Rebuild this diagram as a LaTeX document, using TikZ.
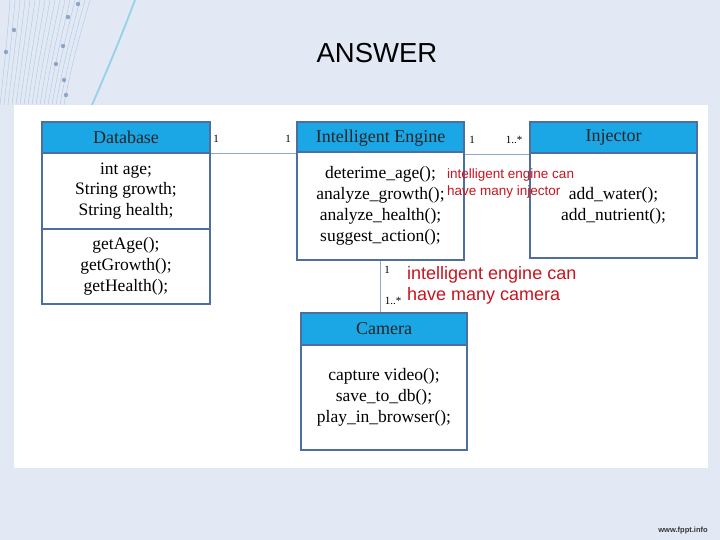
\documentclass[tikz,border=0pt]{standalone}
\usepackage{fontspec}
\setmainfont{Liberation Serif}
\newfontfamily\arialf{Liberation Sans}
\begin{document}
\begin{tikzpicture}[x=1pt,y=-1pt,
  hdr/.style={draw=boxc,line width=1.2pt,fill=hdrc,minimum width=#1,minimum height=31pt,inner sep=0pt,font=\fontsize{18}{21}\selectfont,text=black!85},
  bdy/.style={draw=boxc,line width=1.2pt,fill=white,minimum width=#1,inner sep=0pt,align=center,font=\fontsize{17.5}{20.8}\selectfont},
  conn/.style={draw=connc,line width=0.8pt},
  mult/.style={font=\fontsize{11}{12}\selectfont,inner sep=0pt},
  note/.style={text=notec,font=\arialf\fontsize{#1}{1.2\dimexpr#1pt\relax}\selectfont,align=left,inner sep=0pt,anchor=north west}
]
\definecolor{bgc}{HTML}{E2E9F4}
\definecolor{hdrc}{HTML}{1BA6E6}
\definecolor{boxc}{HTML}{4D6E9E}
\definecolor{connc}{HTML}{8FA9CC}
\definecolor{notec}{HTML}{C8141E}
\definecolor{swirl}{HTML}{7FB3D8}
\useasboundingbox (0,0) rectangle (720,540);
\fill[bgc] (0,0) rectangle (720,540);
% decorative swirl top-left
\foreach \i in {0,...,16}{
  \draw[swirl!80,line width=0.4pt,opacity=0.8] (\i*4,105) .. controls (5+\i*4.2,60) and (8+\i*4.6,30) .. (10+\i*5,0);
}
\draw[swirl!80!cyan,line width=1.8pt,opacity=0.6] (92,105) .. controls (105,75) and (120,40) .. (135,0);
\foreach \p in {(78,4),(68,17),(63,46),(56,64),(64,80),(66,95),(14,30),(6,52)}{
  \fill[boxc!80,opacity=0.7] \p circle (2.2pt);
}
% title
\node[font=\arialf\fontsize{27.5}{32}\selectfont] (title) at (377,53) {ANSWER};
% white panel
\fill[white] (14,105) rectangle (708,468);
% Database
\node[hdr=168pt] (dbH) at (126,137.5) {Database};
\node[bdy=168pt,minimum height=76pt] (dbA) at (126,191) {int age;\\String growth;\\String health;};
\node[bdy=168pt,minimum height=75pt] (dbM) at (126,266.5) {getAge();\\getGrowth();\\getHealth();};
% Intelligent Engine
\node[hdr=167pt,minimum height=32pt] (engH) at (380.5,138) {Intelligent Engine};
\node[bdy=167pt,minimum height=108pt] (engB) at (380.5,206) {deterime\_age();\\analyze\_growth();\\analyze\_health();\\suggest\_action();};
% Injector
\node[hdr=167pt] (injH) at (613.5,137.5) {Injector};
\node[bdy=167pt,minimum height=105pt] (injB) at (613.5,205.5) {add\_water();\\add\_nutrient();};
% Camera
\node[hdr=166pt,minimum height=32pt] (camH) at (384,329) {Camera};
\node[bdy=166pt,minimum height=105pt] (camB) at (384,397.5) {capture video();\\save\_to\_db();\\play\_in\_browser();};
% connectors
\draw[conn] (dbH.south east) -- (dbH.south east -| engH.west);
\draw[conn] (engH.south east) -- (engH.south east -| injH.west);
\draw[conn] (engB.south) -- (engB.south |- camH.north);
% multiplicities
\node[mult] (m1) at (216,139) {1};
\node[mult] (m2) at (288,139) {1};
\node[mult] (m3) at (472,140) {1};
\node[mult] (m4) at (514,140) {1..*};
\node[mult] (m5) at (387,270) {1};
\node[mult] (m6) at (393,301) {1..*};
% notes
\node[note=13.5] (n1) at (447,169) {intelligent engine can\\have many injector};
\node[note=18] (n2) at (407,266) {intelligent engine can\\have many camera};
% footer
\node[font=\arialf\bfseries\fontsize{7.5}{8}\selectfont,text=black!80] (foot) at (683,531) {www.fppt.info};
\end{tikzpicture}
\end{document}
